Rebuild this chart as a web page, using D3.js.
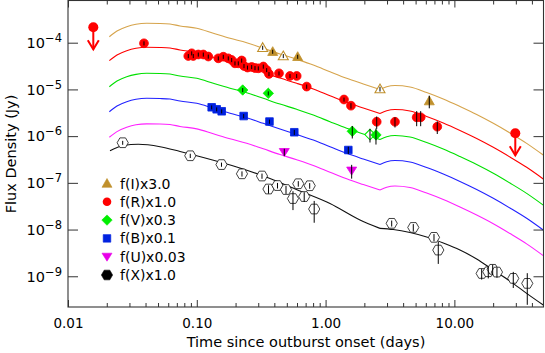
<!DOCTYPE html>
<html><head><meta charset="utf-8">
<script src="https://cdn.jsdelivr.net/npm/d3@7"></script>
<style>body{margin:0;background:#fff}svg{display:block}</style>
</head><body>
<svg id="c" width="545" height="353"></svg>
<script>
// ---------- data ----------
const modelT = [0.02094,0.0240,0.02857,0.03373,0.04083,0.0518,0.0619,0.0741,0.1,0.1343,0.181,0.244,0.328,0.4426,0.5965,0.8028,1.082,1.458,1.962,2.645,2.982,3.458,4.521,6.095,8.2,11.05,14.9,20.05,27.02,36.4,49.0];
const modelI = [1.34e-4,1.78e-4,2.20e-4,2.48e-4,2.60e-4,2.58e-4,2.51e-4,2.28e-4,2.03e-4,1.59e-4,1.24e-4,1.00e-4,7.59e-5,5.73e-5,4.41e-5,3.33e-5,2.39e-5,1.73e-5,1.31e-5,9.95e-6,1.14e-5,1.21e-5,1.13e-5,8.58e-6,6.23e-6,4.30e-6,2.90e-6,1.88e-6,1.17e-6,7.01e-7,3.94e-7];
const modelR = [4.12e-5,5.45e-5,6.74e-5,7.59e-5,7.97e-5,7.89e-5,7.70e-5,6.98e-5,6.23e-5,4.87e-5,3.80e-5,3.06e-5,2.32e-5,1.75e-5,1.35e-5,1.02e-5,7.33e-6,5.29e-6,4.00e-6,3.05e-6,3.50e-6,3.71e-6,3.45e-6,2.63e-6,1.91e-6,1.32e-6,8.88e-7,5.76e-7,3.57e-7,2.15e-7,1.21e-7];
const modelV = [1.14e-5,1.51e-5,1.87e-5,2.10e-5,2.21e-5,2.19e-5,2.13e-5,1.93e-5,1.73e-5,1.35e-5,1.06e-5,8.49e-6,6.44e-6,4.86e-6,3.75e-6,2.83e-6,2.03e-6,1.47e-6,1.11e-6,8.45e-7,9.70e-7,1.03e-6,9.55e-7,7.29e-7,5.29e-7,3.65e-7,2.46e-7,1.60e-7,9.89e-8,5.96e-8,3.34e-8];
const modelB = [3.33e-6,4.41e-6,5.45e-6,6.14e-6,6.45e-6,6.38e-6,6.23e-6,5.64e-6,5.04e-6,3.94e-6,3.08e-6,2.48e-6,1.88e-6,1.42e-6,1.09e-6,8.25e-7,5.93e-7,4.28e-7,3.23e-7,2.47e-7,2.83e-7,3.00e-7,2.79e-7,2.13e-7,1.54e-7,1.07e-7,7.19e-8,4.66e-8,2.89e-8,1.74e-8,9.75e-9];
const modelU = [9.47e-7,1.25e-6,1.55e-6,1.75e-6,1.83e-6,1.82e-6,1.77e-6,1.61e-6,1.43e-6,1.12e-6,8.75e-7,7.05e-7,5.35e-7,4.04e-7,3.11e-7,2.35e-7,1.69e-7,1.22e-7,9.20e-8,7.01e-8,8.05e-8,8.54e-8,7.93e-8,6.05e-8,4.39e-8,3.03e-8,2.04e-8,1.33e-8,8.21e-9,4.94e-9,2.77e-9];
const modelKink = 19;
const modelXT = [0.02119,0.02687,0.03514,0.0518,0.0741,0.1123,0.2041,0.370,0.6326,1.082,1.850,2.645,3.355,4.521,6.095,8.2,11.05,14.9,20.05,27.02,36.4,49.0];
const modelX = [4.87e-7,6.29e-7,6.68e-7,5.93e-7,4.68e-7,3.48e-7,2.18e-7,1.24e-7,6.68e-8,3.60e-8,1.60e-8,1.06e-8,1.00e-8,8.62e-9,6.91e-9,5.14e-9,3.64e-9,2.34e-9,1.36e-9,7.89e-10,4.30e-10,2.42e-10];
const modelXKink = 11;

const iT = [0.3248,0.3884,0.4694,0.6073,2.645,6.385];
const iF = [7.81e-5,6.42e-5,5.19e-5,5.01e-5,1.02e-5,5.64e-6];
const iE = [7.8e-6,6.4e-6,5.2e-6,5.0e-6,1.2e-6,1.7e-6];
const iOpen = [1,0,1,0,1,0];

const rT = [0.0389,0.0859,0.0913,0.0939,0.1027,0.1123,0.1228,0.1469,0.1606,0.1756,0.1866,0.1979,0.2100,0.2232,0.2325,0.2475,0.2668,0.2831,0.3003,0.3284,0.3488,0.3635,0.4347,0.5293,0.5965,0.7134,1.390,1.574,2.494,3.458,5.097,5.474,7.365];
const rF = [9.71e-5,5.19e-5,5.93e-5,5.19e-5,5.59e-5,5.59e-5,5.06e-5,4.63e-5,5.01e-5,4.63e-5,4.26e-5,3.62e-5,3.62e-5,4.16e-5,3.17e-5,2.94e-5,3.02e-5,2.87e-5,2.83e-5,3.09e-5,2.60e-5,2.14e-5,2.21e-5,1.94e-5,1.94e-5,1.15e-5,6.08e-6,4.48e-6,2.03e-6,2.03e-6,2.53e-6,2.53e-6,1.59e-6];
const rE = [9.7e-6,5.2e-6,5.9e-6,5.2e-6,5.6e-6,5.6e-6,5.1e-6,4.6e-6,5.0e-6,4.6e-6,4.3e-6,3.6e-6,3.6e-6,4.2e-6,3.2e-6,2.9e-6,3.0e-6,2.9e-6,2.8e-6,3.1e-6,2.6e-6,2.1e-6,2.2e-6,1.9e-6,1.9e-6,1.2e-6,6.1e-7,6.0e-7,6.0e-7,5.0e-7,9.0e-7,9.0e-7,4.8e-7];
const rLimT = [0.01572,29.71];
const rLimF = [2.14e-4,1.15e-6];

const vT = [0.2272,0.3590,1.612,2.212,2.462];
const vF = [9.71e-6,8.25e-6,1.27e-6,1.08e-6,1.06e-6];
const vE = [9.7e-7,8.3e-7,3.8e-7,3.5e-7,4.0e-7];
const vOpen = [0,0,0,1,0];

const bT = [0.1305,0.1427,0.1561,0.2312,0.3667,0.5715,1.501];
const bF = [4.14e-6,3.75e-6,3.40e-6,2.69e-6,2.05e-6,1.21e-6,5.04e-7];
const bE = [4.0e-7,3.7e-7,3.4e-7,2.7e-7,2.1e-7,1.5e-7,9.0e-8];

const uT = [0.4779,1.594];
const uF = [4.57e-7,1.83e-7];
const uE = [8.0e-8,6.0e-8];

const xT = [0.02659,0.0890,0.1555,0.2243,0.3208,0.3603,0.4232,0.4928,0.5582,0.6138,0.6823,0.7527,0.8157,3.261,4.797,6.945,7.499,16.29,18.33,19.83,21.41,28.66,36.81];
const xF = [7.22e-7,3.80e-7,2.46e-7,1.56e-7,1.40e-7,7.37e-8,8.75e-8,7.19e-8,4.61e-8,9.57e-8,5.09e-8,8.67e-8,2.75e-8,1.36e-8,1.11e-8,6.81e-9,3.64e-9,1.15e-9,1.25e-9,1.41e-9,1.23e-9,9.02e-10,7.05e-10];
const xE = [7e-8,4e-8,2.5e-8,2e-8,1.8e-8,1.5e-8,1.2e-8,1.4e-8,2.0e-8,1.3e-8,1.2e-8,1.2e-8,1.35e-8,2e-9,2e-9,1.2e-9,1.8e-9,3e-10,3.5e-10,3.5e-10,3e-10,3.4e-10,4.6e-10];

const legendLabels = ["f(I)x3.0","f(R)x1.0","f(V)x0.3","f(B)x0.1","f(U)x0.03","f(X)x1.0"];
const xMajor = [0.01,0.1,1,10];
const xMajorLabels = ["0.01","0.10","1.00","10.00"];
const yMajor = [1e-9,1e-8,1e-7,1e-6,1e-5,1e-4];
const yMajorExp = ["−9","−8","−7","−6","−5","−4"];

// ---------- layout ----------
const L = 68, R = 543.5, T = 0.5, B = 307;
const FONT = "'DejaVu Sans', sans-serif";
const cI = "#d6a44c", cIm = "#c0902c", cR = "#ff0000", cV = "#00e000", cVm = "#00ee00", cB = "#2222ff", cBm = "#0022e0", cU = "#ff22ff", cUm = "#e800e8";

const svg = d3.select("#c");
const x = d3.scaleLog().domain([0.01, 49.2]).range([L, R]);
const y = d3.scaleLog().domain([2.2e-10, 8.0e-4]).range([B, T]);

svg.append("defs").append("clipPath").attr("id","clip")
  .append("rect").attr("x",L).attr("y",T).attr("width",R-L).attr("height",B-T);
const plot = svg.append("g").attr("clip-path","url(#clip)");

// model curves (split at the kink to keep it sharp)
const line = d3.line().x(d=>x(d[0])).y(d=>y(d[1])).curve(d3.curveMonotoneX);
function drawModel(ts, fs, k, color){
  const pts = ts.map((t,i)=>[t, fs[i]]);
  [pts.slice(0,k+1), pts.slice(k)].forEach(seg=>{
    plot.append("path").attr("d", line(seg)).attr("fill","none")
      .attr("stroke", color).attr("stroke-width",1.1);
  });
}
drawModel(modelT, modelI, modelKink, cI);
drawModel(modelT, modelR, modelKink, cR);
drawModel(modelT, modelV, modelKink, cV);
drawModel(modelT, modelB, modelKink, cB);
drawModel(modelT, modelU, modelKink, cU);
drawModel(modelXT, modelX, modelXKink, "#111");

// marker shapes
function hexPath(r){ let p=""; for(let i=0;i<6;i++){const a=Math.PI/3*i; p+=(i?"L":"M")+(r*Math.cos(a)).toFixed(2)+","+(r*Math.sin(a)).toFixed(2);} return p+"Z"; }
const shapes = {
  triUp: "M0,-5L5,3.8L-5,3.8Z",
  triDown: "M0,4.5L5,-3.5L-5,-3.5Z",
  diamond: "M0,-5.2L5.2,0L0,5.2L-5.2,0Z",
  square: "M-3.8,-3.8L3.8,-3.8L3.8,3.8L-3.8,3.8Z",
  hex: hexPath(5.6)
};
function errBars(ts, fs, es){
  ts.forEach((t,i)=>{
    const lo = Math.max(fs[i]-es[i], 1e-12);
    plot.append("line").attr("x1",x(t)).attr("x2",x(t))
      .attr("y1",y(fs[i]+es[i])).attr("y2",y(lo))
      .attr("stroke","#000").attr("stroke-width",1);
  });
}
function markers(ts, fs, shape, fill, stroke, open){
  ts.forEach((t,i)=>{
    const isOpen = open ? open[i] : 0;
    if(shape==="circle"){
      plot.append("circle").attr("cx",x(t)).attr("cy",y(fs[i])).attr("r",4.4)
        .attr("fill", isOpen?"#fff":fill).attr("stroke",stroke).attr("stroke-width",0.8);
    } else {
      plot.append("path").attr("d",shapes[shape])
        .attr("transform",`translate(${x(t)},${y(fs[i])})`)
        .attr("fill", isOpen?"#fff":fill).attr("stroke",stroke).attr("stroke-width",isOpen?1.1:0.8);
    }
  });
}

markers(xT, xF, "hex", "#fff", "#111");
errBars(xT, xF, xE);
markers(iT, iF, "triUp", cIm, cIm, iOpen);
errBars(iT, iF, iE);
markers(rT, rF, "circle", cR, cR);
errBars(rT, rF, rE);
markers(vT, vF, "diamond", cVm, cVm, vOpen);
errBars(vT, vF, vE);
markers(bT, bF, "square", cBm, cBm);
errBars(bT, bF, bE);
markers(uT, uF, "triDown", cUm, cUm);
errBars(uT, uF, uE);

// upper limits
rLimT.forEach((t,i)=>{
  const cx = x(t), cy = y(rLimF[i]);
  const g = plot.append("g").attr("stroke",cR).attr("stroke-width",2).attr("fill","none");
  g.append("line").attr("x1",cx).attr("x2",cx).attr("y1",cy).attr("y2",cy+22);
  g.append("path").attr("d",`M${cx-5.5},${cy+13}L${cx},${cy+22}L${cx+5.5},${cy+13}`);
  plot.append("circle").attr("cx",cx).attr("cy",cy).attr("r",5).attr("fill",cR);
});

// ---------- axes ----------
const minor = [];
[0.01,0.1,1,10].forEach(d=>{ for(let k=2;k<=9;k++){ const v=d*k; if(v<=49.2) minor.push(v);} });
const axCol = "#333";
function styleAxis(g){ g.select(".domain").remove(); g.selectAll("line").attr("stroke",axCol).attr("stroke-width",1); }

svg.append("g").attr("transform",`translate(0,${B})`)
  .call(d3.axisBottom(x).tickValues(xMajor).tickSize(-7).tickSizeOuter(0).tickPadding(11)
    .tickFormat((d,i)=>xMajorLabels[i]))
  .call(styleAxis)
  .call(g=>g.selectAll("text").attr("font-family",FONT).attr("font-size",13.5).attr("fill","#000"));
svg.append("g").attr("transform",`translate(0,${B})`)
  .call(d3.axisBottom(x).tickValues(minor).tickSize(-4).tickSizeOuter(0).tickFormat(""))
  .call(styleAxis);
svg.append("g").attr("transform",`translate(0,${T})`)
  .call(d3.axisTop(x).tickValues(xMajor).tickSize(-7).tickSizeOuter(0).tickFormat(""))
  .call(styleAxis);
svg.append("g").attr("transform",`translate(0,${T})`)
  .call(d3.axisTop(x).tickValues(minor).tickSize(-4).tickSizeOuter(0).tickFormat(""))
  .call(styleAxis);

const yl = svg.append("g").attr("transform",`translate(${L},0)`)
  .call(d3.axisLeft(y).tickValues(yMajor).tickSize(-10).tickSizeOuter(0).tickPadding(7).tickFormat(""))
  .call(styleAxis);
yl.selectAll(".tick").each(function(d,i){
  const t = d3.select(this).append("text").attr("x",-6).attr("dy","0.33em")
    .attr("text-anchor","end").attr("font-family",FONT).attr("font-size",14.5).attr("fill","#000");
  t.append("tspan").text("10");
  t.append("tspan").attr("dy",-6).attr("font-size",11.5).text(yMajorExp[i]);
});
svg.append("g").attr("transform",`translate(${R},0)`)
  .call(d3.axisRight(y).tickValues(yMajor).tickSize(-10).tickSizeOuter(0).tickFormat(""))
  .call(styleAxis);

svg.append("rect").attr("x",L).attr("y",T).attr("width",R-L).attr("height",B-T)
  .attr("fill","none").attr("stroke",axCol).attr("stroke-width",1.1);

// axis titles
svg.append("text").attr("x",306).attr("y",347).attr("text-anchor","middle")
  .attr("font-family",FONT).attr("font-size",14.5).text("Time since outburst onset (days)");
svg.append("text").attr("transform","translate(16,154) rotate(-90)").attr("text-anchor","middle")
  .attr("font-family",FONT).attr("font-size",14.5).text("Flux Density (Jy)");

// ---------- legend ----------
const legShapes = [["triUp",cIm],["circle",cR],["diamond",cVm],["square",cBm],["triDown",cUm],["hex","#000"]];
const leg = svg.append("g");
legendLabels.forEach((lab,i)=>{
  const ly = 183.5 + i*18.3;
  const [sh,col] = legShapes[i];
  if(sh==="circle") leg.append("circle").attr("cx",107).attr("cy",ly).attr("r",4.3).attr("fill",col);
  else leg.append("path").attr("d",shapes[sh]).attr("transform",`translate(107,${ly})`).attr("fill",col).attr("stroke",col).attr("stroke-width",0.6);
  leg.append("text").attr("x",120).attr("y",ly+5).attr("font-family",FONT).attr("font-size",14)
    .attr("fill","#000").text(lab);
});
</script>
</body></html>
